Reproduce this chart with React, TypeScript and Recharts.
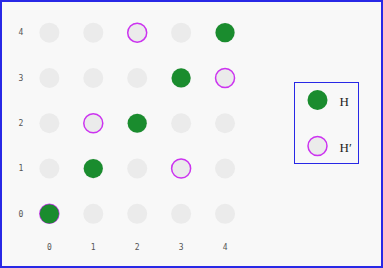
import React from "react";
import { ScatterChart, Scatter, XAxis, YAxis, Legend } from "recharts";

const xTicks = [0, 1, 2, 3, 4];
const yTicks = [0, 1, 2, 3, 4];
const gridX = [0, 1, 2, 3, 4];
const gridY = [0, 1, 2, 3, 4];
const hX = [0, 1, 2, 3, 4];
const hY = [0, 1, 2, 3, 4];
const hpX = [0, 1, 2, 3, 4];
const hpY = [0, 2, 4, 1, 3];
const seriesNames = ["H", "H\u2032"];

const gridData = gridX.flatMap((x) => gridY.map((y) => ({ x, y })));
const hData = hX.map((x, i) => ({ x, y: hY[i] }));
const hpData = hpX.map((x, i) => ({ x, y: hpY[i] }));

const GREEN = "#1a8c2e";
const MAGENTA = "#cc33f0";
const GRAY = "#ebebeb";
const BLUE = "#2828e6";
const BG = "#f8f8f8";

const LegendBox = () => (
  <div
    style={{
      width: 65,
      height: 82,
      boxSizing: "border-box",
      border: `1px solid ${BLUE}`,
      background: BG,
    }}
  >
    <svg width={63} height={80} style={{ display: "block" }}>
      <circle cx={22.5} cy={17} r={10} fill={GREEN} />
      <text x={44.5} y={23} fontFamily="Liberation Serif" fontSize={13} fill="#222">
        {seriesNames[0]}
      </text>
      <circle cx={22.5} cy={63} r={9.5} fill={GRAY} stroke={MAGENTA} strokeWidth={1.5} />
      <text x={44.5} y={69} fontFamily="Liberation Serif" fontSize={13} fill="#222">
        {seriesNames[1]}
      </text>
    </svg>
  </div>
);

export default function App() {
  return (
    <div style={{ position: "absolute", left: 0, top: 0, width: 383, height: 268, background: BG }}>
      <ScatterChart
        width={383}
        height={268}
        margin={{ top: 10, right: 136, bottom: 1.5, left: 0 }}
      >
        <XAxis
          type="number"
          dataKey="x"
          domain={[-0.5, 4.5]}
          ticks={xTicks}
          axisLine={false}
          tickLine={false}
          height={30}
          tick={{ fontFamily: "DejaVu Sans Mono", fontSize: 8, fill: "#555" }}
        />
        <YAxis
          type="number"
          dataKey="y"
          domain={[-0.5, 4.5]}
          ticks={yTicks}
          axisLine={false}
          tickLine={false}
          tickSize={0}
          tickMargin={4}
          width={27.4}
          tick={{ fontFamily: "DejaVu Sans Mono", fontSize: 8, fill: "#555" }}
        />
        <Scatter
          data={gridData}
          isAnimationActive={false}
          legendType="none"
          shape={(p: any) => <circle cx={p.cx} cy={p.cy} r={10} fill={GRAY} />}
        />
        <Scatter
          name={seriesNames[1]}
          data={hpData}
          isAnimationActive={false}
          shape={(p: any) => (
            <circle cx={p.cx} cy={p.cy} r={9.5} fill={GRAY} stroke={MAGENTA} strokeWidth={1.5} />
          )}
        />
        <Scatter
          name={seriesNames[0]}
          data={hData}
          isAnimationActive={false}
          shape={(p: any) => <circle cx={p.cx} cy={p.cy} r={9.6} fill={GREEN} />}
        />
        <Legend
          layout="horizontal"
          verticalAlign="middle"
          align="center"
          content={() => <LegendBox />}
          wrapperStyle={{ position: "absolute", left: 294, top: 82, width: 65, height: 82 }}
        />
      </ScatterChart>
      <div
        style={{
          position: "absolute",
          left: 0,
          top: 0,
          width: 383,
          height: 268,
          boxSizing: "border-box",
          border: `2px solid ${BLUE}`,
          pointerEvents: "none",
        }}
      />
    </div>
  );
}
